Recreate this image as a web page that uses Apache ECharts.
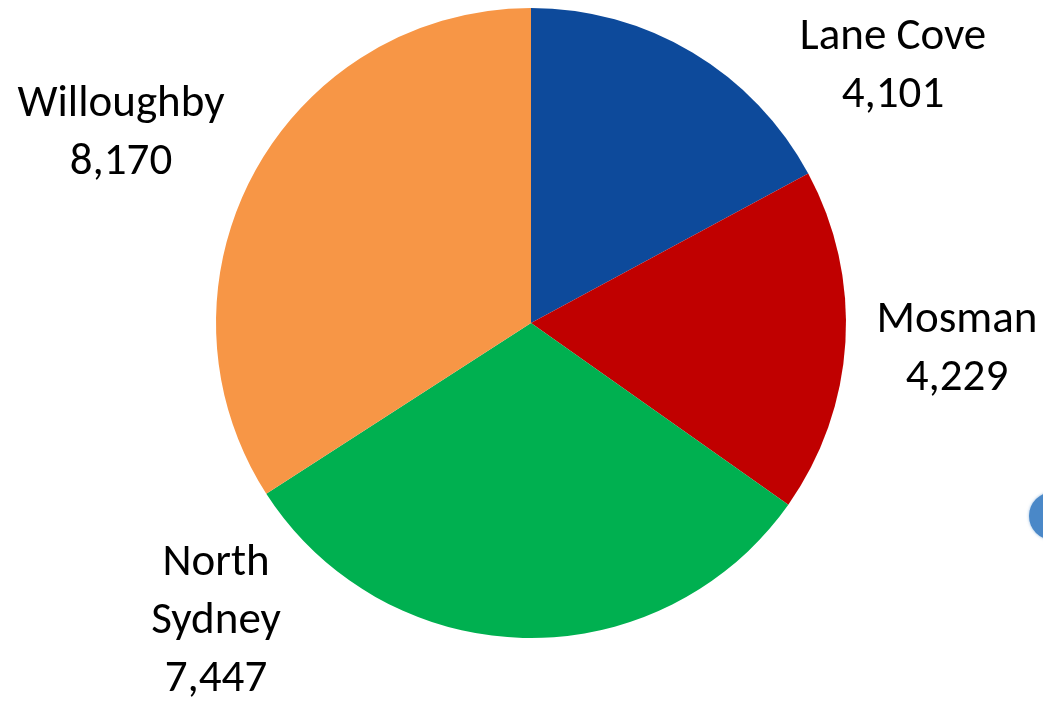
<!DOCTYPE html>
<html>
<head>
<meta charset="utf-8">
<script src="https://cdn.jsdelivr.net/npm/echarts@6/dist/echarts.min.js"></script>
<style>html,body{margin:0;padding:0;background:#fff;}#c{width:1043px;height:701px;}</style>
</head>
<body>
<div id="c"></div>
<script>
const categories = ['Lane Cove', 'Mosman', 'North Sydney', 'Willoughby'];
const labelNames = ['Lane Cove', 'Mosman', 'North\nSydney', 'Willoughby'];
const values = [4101, 4229, 7447, 8170];
const colors = ['#0D4A9B', '#C00000', '#00B050', '#F79646'];

const labelCenters = [[893, 67], [957, 350], [216, 622], [121, 134]];

const chart = echarts.init(document.getElementById('c'));
const fmt = v => v.toLocaleString('en-US');
chart.setOption({
  animation: false,
  graphic: [{
    type: 'circle',
    shape: { cx: 1053, cy: 516, r: 24 },
    style: { fill: '#4A88C8', shadowBlur: 3, shadowColor: 'rgba(74,136,200,0.6)' },
    silent: true
  }],
  series: [{
    type: 'pie',
    center: [531, 323],
    radius: 315,
    startAngle: 90,
    clockwise: true,
    data: categories.map((c, i) => ({
      name: c, value: values[i], itemStyle: { color: colors[i] },
      label: { formatter: labelNames[i] + '\n' + fmt(values[i]) }
    })),
    itemStyle: { borderWidth: 0 },
    label: {
      show: true,
      position: 'outside',
      color: '#000',
      fontSize: 45,
      lineHeight: 58,
      fontFamily: 'Carlito, Lato, sans-serif',
      align: 'center',
      overflow: 'none',
      width: 400
    },
    labelLine: { show: false },
    labelLayout: function (p) {
      const c = labelCenters[p.dataIndex];
      return { x: c[0], y: c[1], align: 'center', verticalAlign: 'middle', hideOverlap: false, moveOverlap: false };
    }
  }]
});
</script>
</body>
</html>
